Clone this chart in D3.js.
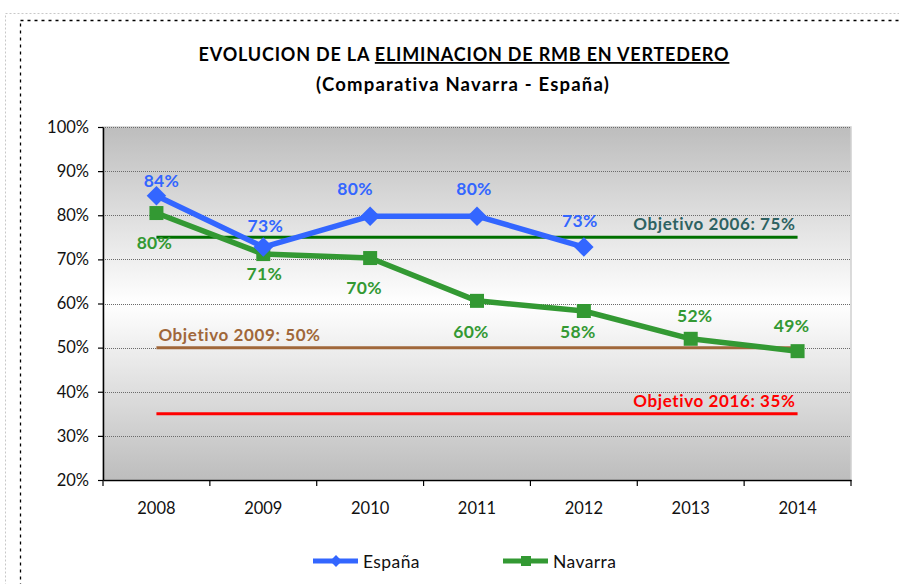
<!DOCTYPE html>
<html><head><meta charset="utf-8">
<script src="https://cdn.jsdelivr.net/npm/d3@7"></script>
<style>body{margin:0;background:#fff}svg{display:block}</style>
</head><body>
<svg id="c" width="899" height="584"></svg>
<script>
const years = ["2008","2009","2010","2011","2012","2013","2014"];
const espana = [84.4, 72.8, 79.8, 79.8, 72.8, null, null];
const navarra = [80.5, 71.2, 70.3, 60.6, 58.3, 52.0, 49.2];
const espanaLabels = ["84%","73%","80%","80%","73%",null,null];
const navarraLabels = ["80%","71%","70%","60%","58%","52%","49%"];
const yTicks = [20,30,40,50,60,70,80,90,100];
const objectiveValues = [75, 50, 35];
const objectiveLabels = ["Objetivo 2006: 75%", "Objetivo 2009: 50%", "Objetivo 2016: 35%"];

// label placement (layout, px offsets of label centre from the point)
const espLabelOff = [[5,-15],[2,-21],[-15,-27],[-3,-27],[-4,-26]];
const navLabelOff = [[-2,30],[1,20],[-6,30],[-6,31],[-6,21],[4,-23],[-6,-25]];
const objStyle = [
  {color:"#007000", text:"#2E6262", anchor:"end"},
  {color:"#A0673A", text:"#A0673A", anchor:"start"},
  {color:"#FF0000", text:"#FF0000", anchor:"end"}
];

const FONT = "Lato, 'Open Sans', sans-serif";
const svg = d3.select("#c");
const L = 103, R = 851, T = 127, B = 480;
const x = d3.scaleBand().domain(years).range([L, R]);
const y = d3.scaleLinear().domain([20,100]).range([B, T]);
const cx = d => x(d) + x.bandwidth()/2;

// outer borders
svg.append("rect").attr("x",5.5).attr("y",13.5).attr("width",900).attr("height",580)
  .attr("fill","none").attr("stroke","#c8c8c8").attr("stroke-dasharray","2,2");
svg.append("rect").attr("x",20.5).attr("y",20.5).attr("width",900).attr("height",580)
  .attr("fill","none").attr("stroke","#000").attr("stroke-width",1.3).attr("stroke-dasharray","3,4");

// plot background gradient
const defs = svg.append("defs");
const g = defs.append("linearGradient").attr("id","bg").attr("x1",0).attr("y1",0).attr("x2",0).attr("y2",1);
g.append("stop").attr("offset","0%").attr("stop-color","#bdbdbd");
g.append("stop").attr("offset","50%").attr("stop-color","#ffffff");
g.append("stop").attr("offset","100%").attr("stop-color","#bdbdbd");
svg.append("rect").attr("x",L).attr("y",T).attr("width",R-L).attr("height",B-T).attr("fill","url(#bg)")
  .attr("stroke","#d0d0d0").attr("stroke-width",1.5);

// gridlines
svg.append("g").selectAll("line").data(yTicks.filter(t=>t>20)).join("line")
  .attr("x1",L).attr("x2",R).attr("y1",d=>Math.round(y(d))+0.5).attr("y2",d=>Math.round(y(d))+0.5)
  .attr("stroke","#6b6b6b").attr("stroke-width",1).attr("stroke-dasharray","1,1");

// axes
const ya = svg.append("g").attr("transform",`translate(${L},0)`)
  .call(d3.axisLeft(y).tickValues(yTicks).tickFormat(d=>d+"%").tickSize(5).tickSizeOuter(0));
ya.select(".domain").attr("stroke","#000").attr("stroke-width",1.5);
ya.selectAll(".tick line").attr("stroke","#000").attr("stroke-width",1.2);
ya.selectAll("text").attr("font-family",FONT).attr("font-size",16.5).attr("fill","#111").attr("x",-14);

const xa = svg.append("g").attr("transform",`translate(0,${B})`)
  .call(d3.axisBottom(x).tickSize(0));
xa.select(".domain").attr("stroke","#000").attr("stroke-width",1.5);
xa.selectAll("text").attr("font-family",FONT).attr("font-size",16.5).attr("fill","#111").attr("y",34).attr("dy",0);
svg.append("g").selectAll("line").data(d3.range(years.length+1)).join("line")
  .attr("x1",i=>L+i*x.step()).attr("x2",i=>L+i*x.step()).attr("y1",B).attr("y2",B+6)
  .attr("stroke","#000").attr("stroke-width",1.2);

// objective lines
objectiveValues.forEach((v,i)=>{
  const o = objStyle[i];
  svg.append("line").attr("x1",cx(years[0])).attr("x2",cx(years[years.length-1]))
    .attr("y1",y(v)).attr("y2",y(v)).attr("stroke",o.color).attr("stroke-width",3);
  svg.append("text").attr("x",o.anchor==="end"?cx(years[years.length-1])-2:cx(years[0])+2)
    .attr("y",y(v)-7).attr("text-anchor",o.anchor)
    .attr("font-family",FONT).attr("font-weight","bold").attr("font-size",17).attr("letter-spacing",0.6).attr("fill",o.text)
    .text(objectiveLabels[i]);
});

const line = d3.line().defined(d=>d.v!=null).x(d=>cx(d.k)).y(d=>y(d.v));
const blue = "#3366FF", green = "#339933";
const nav = years.map((k,i)=>({k,v:navarra[i],i}));
const esp = years.map((k,i)=>({k,v:espana[i],i}));

// Navarra
svg.append("path").datum(nav).attr("d",line).attr("fill","none").attr("stroke",green).attr("stroke-width",5.5).attr("stroke-linejoin","round");
svg.append("g").selectAll("rect").data(nav).join("rect")
  .attr("x",d=>cx(d.k)-7).attr("y",d=>y(d.v)-7).attr("width",14).attr("height",14).attr("fill",green);
// España
svg.append("path").datum(esp).attr("d",line).attr("fill","none").attr("stroke",blue).attr("stroke-width",5.5).attr("stroke-linejoin","round");
svg.append("g").selectAll("path").data(esp.filter(d=>d.v!=null)).join("path")
  .attr("d",d3.symbol().type(d3.symbolSquare).size(190))
  .attr("transform",d=>`translate(${cx(d.k)},${y(d.v)}) rotate(45)`)
  .attr("fill",blue);

// data labels
svg.append("g").selectAll("text").data(esp.filter(d=>d.v!=null)).join("text")
  .attr("x",d=>cx(d.k)+espLabelOff[d.i][0]).attr("y",d=>y(d.v)+espLabelOff[d.i][1]+6).attr("text-anchor","middle")
  .attr("font-family",FONT).attr("font-weight","bold").attr("font-size",17.5).attr("letter-spacing",0.3).attr("fill",blue)
  .text(d=>espanaLabels[d.i]);
svg.append("g").selectAll("text").data(nav).join("text")
  .attr("x",d=>cx(d.k)+navLabelOff[d.i][0]).attr("y",d=>y(d.v)+navLabelOff[d.i][1]+6).attr("text-anchor","middle")
  .attr("font-family",FONT).attr("font-weight","bold").attr("font-size",17.5).attr("letter-spacing",0.3).attr("fill",green)
  .text(d=>navarraLabels[d.i]);

// title
const t = svg.append("text").attr("x",464).attr("y",61).attr("text-anchor","middle")
  .attr("font-family",FONT).attr("font-weight","bold").attr("font-size",18).attr("letter-spacing",0.8).attr("fill","#000");
t.append("tspan").text("EVOLUCION DE LA ");
t.append("tspan").attr("text-decoration","underline").text("ELIMINACION DE RMB EN VERTEDERO ");
svg.append("text").attr("x",463).attr("y",91).attr("text-anchor","middle")
  .attr("font-family",FONT).attr("font-weight","bold").attr("font-size",18.5).attr("letter-spacing",1.2).attr("fill","#000")
  .text("(Comparativa Navarra - España)");

// legend
const leg = [{name:"España",c:blue,x:313,sym:"d"},{name:"Navarra",c:green,x:503,sym:"s"}];
leg.forEach(l=>{
  const gy = 561;
  svg.append("line").attr("x1",l.x).attr("x2",l.x+45).attr("y1",gy).attr("y2",gy).attr("stroke",l.c).attr("stroke-width",5);
  if(l.sym==="d") svg.append("path").attr("d",d3.symbol().type(d3.symbolSquare).size(70)).attr("transform",`translate(${l.x+23},${gy}) rotate(45)`).attr("fill",l.c);
  else svg.append("rect").attr("x",l.x+18).attr("y",gy-5).attr("width",10).attr("height",10).attr("fill",l.c);
  svg.append("text").attr("x",l.x+50).attr("y",gy+7).attr("font-family",FONT).attr("font-size",17.5).attr("letter-spacing",0.4).attr("fill","#111").text(l.name);
});
</script>
</body></html>
